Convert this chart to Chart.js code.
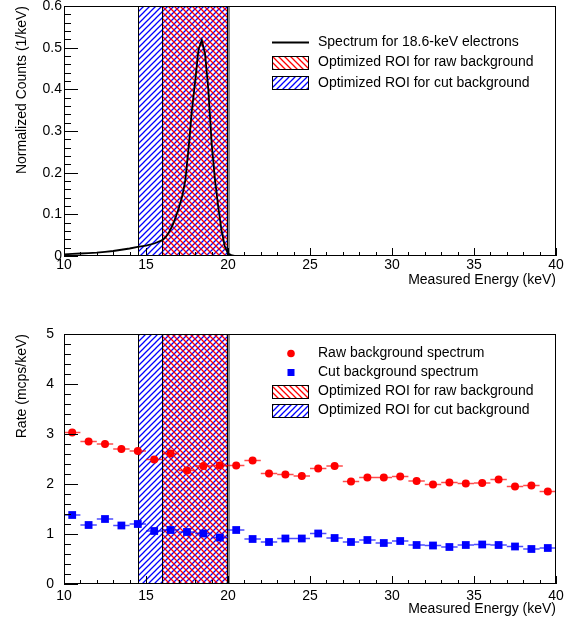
<!DOCTYPE html>
<html>
<head>
<meta charset="utf-8">
<script src="https://cdn.jsdelivr.net/npm/chart.js@4.4.1/dist/chart.umd.min.js"></script>
<style>
  body { margin: 0; background: #fff; }
  #wrap { position: relative; width: 571px; height: 623px; }
  canvas { position: absolute; left: 0; }
</style>
</head>
<body>
<div id="wrap">
  <canvas id="specChart" width="571" height="300" style="top:0"></canvas>
  <canvas id="rateChart" width="571" height="323" style="top:300px"></canvas>
</div>
<script>
//================================================
// DATA
//================================================
const specEnergy = [10.0, 10.5, 11.0, 11.5, 12.0, 12.5, 13.0, 13.5, 14.0, 14.5, 15.0, 15.5, 16.0,
    16.2, 16.4, 16.6, 16.8, 17.0, 17.2, 17.4, 17.6, 17.8, 18.0, 18.2, 18.4, 18.6, 18.8,
    19.0, 19.2, 19.4, 19.6, 19.8, 20.0, 20.2, 20.4, 20.6, 21.0, 40.0];
const specCounts = [0.004, 0.005, 0.006, 0.007, 0.008, 0.010, 0.012, 0.015, 0.018, 0.022, 0.025, 0.030, 0.038,
    0.045, 0.057, 0.072, 0.092, 0.115, 0.142, 0.182, 0.26, 0.35, 0.42, 0.495, 0.518, 0.485, 0.40,
    0.272, 0.185, 0.12, 0.063, 0.024, 0.006, 0.002, 0.0005, 0, 0, 0];

const binCenters = [10.5, 11.5, 12.5, 13.5, 14.5, 15.5, 16.5, 17.5, 18.5, 19.5,
    20.5, 21.5, 22.5, 23.5, 24.5, 25.5, 26.5, 27.5, 28.5, 29.5,
    30.5, 31.5, 32.5, 33.5, 34.5, 35.5, 36.5, 37.5, 38.5, 39.5];
const rawRate = [3.03, 2.85, 2.80, 2.70, 2.66, 2.49, 2.61, 2.27, 2.36, 2.37,
    2.37, 2.47, 2.21, 2.19, 2.16, 2.31, 2.36, 2.05, 2.13, 2.13,
    2.15, 2.06, 1.99, 2.03, 2.01, 2.02, 2.09, 1.95, 1.97, 1.85];
const cutRate = [1.38, 1.18, 1.30, 1.17, 1.20, 1.06, 1.08, 1.04, 1.01, 0.93,
    1.08, 0.90, 0.84, 0.91, 0.91, 1.01, 0.92, 0.84, 0.88, 0.82,
    0.86, 0.78, 0.77, 0.74, 0.78, 0.79, 0.78, 0.75, 0.70, 0.72];
const rawErr = [0.07, 0.07, 0.07, 0.07, 0.07, 0.07, 0.07, 0.07, 0.07, 0.07,
    0.07, 0.07, 0.07, 0.07, 0.07, 0.07, 0.07, 0.07, 0.07, 0.07,
    0.07, 0.07, 0.07, 0.07, 0.07, 0.07, 0.07, 0.07, 0.07, 0.07];
const cutErr = [0.05, 0.05, 0.05, 0.05, 0.05, 0.05, 0.05, 0.05, 0.05, 0.05,
    0.05, 0.05, 0.05, 0.05, 0.05, 0.05, 0.05, 0.05, 0.05, 0.05,
    0.05, 0.05, 0.05, 0.05, 0.05, 0.05, 0.05, 0.05, 0.05, 0.05];
const binHalfWidth = 0.5;

const roiRaw = [16, 20];
const roiCut = [14.5, 20];

const xTicks = [10, 15, 20, 25, 30, 35, 40];
const yTicksSpec = [0, 0.1, 0.2, 0.3, 0.4, 0.5, 0.6];
const yTicksRate = [0, 1, 2, 3, 4, 5];

const legendSpec = ['Spectrum for 18.6-keV electrons', 'Optimized ROI for raw background', 'Optimized ROI for cut background'];
const legendRate = ['Raw background spectrum', 'Cut background spectrum', 'Optimized ROI for raw background', 'Optimized ROI for cut background'];

//================================================
// HELPERS
//================================================
const FONT = '"Liberation Sans", Arial, Helvetica, sans-serif';
Chart.defaults.font.family = FONT;
Chart.defaults.font.size = 14;
Chart.defaults.color = '#000';

// diagonal hatch tile, dir > 0 => '/', else '\'
function hatch(color, dir) {
    const s = 6;
    const c = document.createElement('canvas');
    c.width = s; c.height = s;
    const g = c.getContext('2d');
    g.strokeStyle = color;
    g.lineWidth = 1.3;
    g.beginPath();
    for (let k = -1; k <= 1; k++) {
        if (dir > 0) {
            g.moveTo(k * s - 1, s + 1); g.lineTo(k * s + s + 1, -1);
        } else {
            g.moveTo(k * s - 1, -1); g.lineTo(k * s + s + 1, s + 1);
        }
    }
    g.stroke();
    return g.createPattern(c, 'repeat');
}
const redHatch = hatch('#ff0000', -1);
const blueHatch = hatch('#0000ff', 1);

function drawBands(chart) {
    const { ctx, chartArea: a, scales: { x } } = chart;
    const h = a.bottom - a.top;
    const band = (r, pat) => {
        const l = Math.round(x.getPixelForValue(r[0]));
        const rr = Math.round(x.getPixelForValue(r[1]));
        ctx.fillStyle = pat;
        ctx.fillRect(l, a.top, rr - l, h);
    };
    ctx.save();
    band(roiCut, blueHatch);
    band(roiRaw, redHatch);
    ctx.strokeStyle = '#000';
    ctx.lineWidth = 1;
    [roiCut[0], roiRaw[0]].forEach(v => {
        const p = Math.round(x.getPixelForValue(v)) + 0.5;
        ctx.beginPath(); ctx.moveTo(p, a.top); ctx.lineTo(p, a.bottom); ctx.stroke();
    });
    const pe = Math.round(x.getPixelForValue(roiRaw[1]));
    ctx.fillStyle = '#8a8a8a';
    ctx.fillRect(pe - 1, a.top, 3, h);
    ctx.fillStyle = '#000';
    ctx.fillRect(pe - 1, a.top, 1, h);
    ctx.restore();
}

function drawFrame(chart, yMinor) {
    const { ctx, chartArea: a, scales: { x, y } } = chart;
    ctx.save();
    ctx.strokeStyle = '#000';
    ctx.lineWidth = 1;
    ctx.strokeRect(a.left + 0.5, a.top + 0.5, a.right - a.left - 1, a.bottom - a.top - 1);
    ctx.beginPath();
    // x ticks (inward)
    for (let i = 0; i <= 30; i++) {
        const v = x.min + i;
        const p = Math.round(x.getPixelForValue(v)) + 0.5;
        const len = (i % 5 === 0) ? 8 : 4;
        ctx.moveTo(p, a.bottom);
        ctx.lineTo(p, a.bottom - len);
    }
    // y ticks (inward)
    const n = Math.round((y.max - y.min) / yMinor);
    for (let i = 0; i <= n; i++) {
        const v = y.min + i * yMinor;
        const p = Math.round(y.getPixelForValue(v)) + 0.5;
        const len = (i % 5 === 0) ? 14 : 7;
        ctx.moveTo(a.left, p);
        ctx.lineTo(a.left + len, p);
    }
    ctx.stroke();
    ctx.restore();
}

function drawErrors(chart) {
    const { ctx, scales: { x, y } } = chart;
    const sets = [[rawRate, rawErr, 'rgba(255,0,0,0.7)'], [cutRate, cutErr, 'rgba(0,0,255,0.7)']];
    ctx.save();
    ctx.lineWidth = 1.5;
    sets.forEach(([vals, errs, col]) => {
        ctx.strokeStyle = col;
        ctx.beginPath();
        binCenters.forEach((c, i) => {
            const py = y.getPixelForValue(vals[i]);
            ctx.moveTo(x.getPixelForValue(c - binHalfWidth), py);
            ctx.lineTo(x.getPixelForValue(c + binHalfWidth), py);
            const px = x.getPixelForValue(c);
            ctx.moveTo(px, y.getPixelForValue(vals[i] - errs[i]));
            ctx.lineTo(px, y.getPixelForValue(vals[i] + errs[i]));
        });
        ctx.stroke();
    });
    ctx.restore();
}

// legend entries: kind = 'line' | 'circle' | 'square' | 'red' | 'blue'
function drawLegend(chart, labels, kinds, rows) {
    const { ctx } = chart;
    const x0 = 272, x1 = 309, tx = 318;
    ctx.save();
    ctx.font = '14px ' + FONT;
    ctx.textBaseline = 'middle';
    ctx.textAlign = 'left';
    labels.forEach((txt, i) => {
        const yc = rows[i];
        const k = kinds[i];
        if (k === 'line') {
            ctx.strokeStyle = '#000'; ctx.lineWidth = 1.8;
            ctx.beginPath(); ctx.moveTo(x0, yc); ctx.lineTo(x1, yc); ctx.stroke();
        } else if (k === 'circle') {
            ctx.fillStyle = '#ff0000';
            ctx.beginPath(); ctx.arc(291, yc, 3.8, 0, Math.PI * 2); ctx.fill();
        } else if (k === 'square') {
            ctx.fillStyle = '#0000ff';
            ctx.fillRect(287.5, yc - 3.5, 7, 7);
        } else {
            ctx.fillStyle = k === 'red' ? redHatch : blueHatch;
            ctx.fillRect(x0, Math.round(yc - 7), x1 - x0, 14);
            ctx.strokeStyle = '#000'; ctx.lineWidth = 1;
            ctx.strokeRect(x0 + 0.5, Math.round(yc - 7) + 0.5, x1 - x0 - 1, 13);
        }
        ctx.fillStyle = '#000';
        ctx.fillText(txt, tx, yc);
    });
    ctx.restore();
}

function xScale(labelPad, height, titlePad) {
    return {
        type: 'linear', min: 10, max: 40,
        grid: { display: false, drawTicks: false },
        border: { display: false },
        ticks: { padding: labelPad, maxRotation: 0, autoSkip: false, callback: v => String(v) },
        afterBuildTicks: s => { s.ticks = xTicks.map(v => ({ value: v })); },
        afterFit: s => { s.height = height; s.paddingLeft = 0; s.paddingRight = 0; },
        title: { display: true, text: 'Measured Energy (keV)', align: 'end', padding: { top: 0, bottom: titlePad } }
    };
}

function yScale(max, ticks, labelPad, title) {
    return {
        min: 0, max: max,
        grid: { display: false, drawTicks: false },
        border: { display: false },
        ticks: { padding: labelPad, autoSkip: false, callback: v => String(v) },
        afterBuildTicks: s => { s.ticks = ticks.map(v => ({ value: v })); },
        afterFit: s => { s.width = 64; s.paddingTop = 0; s.paddingBottom = 0; },
        title: { display: true, text: title, align: 'end', padding: { top: 14, bottom: 0 } }
    };
}

//================================================
// TOP CHART: SPECTRUM
//================================================
new Chart(document.getElementById('specChart'), {
    type: 'line',
    data: {
        datasets: [{
            data: specEnergy.map((e, i) => ({ x: e, y: specCounts[i] })),
            borderColor: '#000',
            borderWidth: 1.8,
            pointRadius: 0,
            tension: 0,
            fill: false
        }]
    },
    options: {
        responsive: false,
        animation: false,
        devicePixelRatio: 1,
        layout: { padding: { left: 0, right: 15, top: 6, bottom: 0 } },
        plugins: { legend: { display: false }, tooltip: { enabled: false } },
        scales: {
            x: xScale(1, 44, 11),
            y: yScale(0.6, yTicksSpec, 2, 'Normalized Counts (1/keV)')
        }
    },
    plugins: [{
        id: 'specDeco',
        beforeDatasetsDraw: c => drawBands(c),
        afterDraw: c => {
            drawFrame(c, 0.02);
            drawLegend(c, legendSpec, ['line', 'red', 'blue'], [42.5, 62.5, 83]);
        }
    }]
});

//================================================
// BOTTOM CHART: BACKGROUND RATE
//================================================
new Chart(document.getElementById('rateChart'), {
    type: 'scatter',
    data: {
        datasets: [{
            data: binCenters.map((e, i) => ({ x: e, y: rawRate[i] })),
            pointStyle: 'circle',
            pointRadius: 4,
            backgroundColor: '#ff0000',
            borderWidth: 0
        }, {
            data: binCenters.map((e, i) => ({ x: e, y: cutRate[i] })),
            pointStyle: 'rect',
            pointRadius: 5.5,
            backgroundColor: '#0000ff',
            borderWidth: 0
        }]
    },
    options: {
        responsive: false,
        animation: false,
        devicePixelRatio: 1,
        layout: { padding: { left: 0, right: 15, top: 34, bottom: 0 } },
        plugins: { legend: { display: false }, tooltip: { enabled: false } },
        scales: {
            x: xScale(4, 39, 5),
            y: yScale(5, yTicksRate, 10, 'Rate (mcps/keV)')
        }
    },
    plugins: [{
        id: 'rateDeco',
        beforeDatasetsDraw: c => { drawBands(c); drawErrors(c); },
        afterDraw: c => {
            drawFrame(c, 0.2);
            drawLegend(c, legendRate, ['circle', 'square', 'red', 'blue'], [53.5, 72.5, 91.5, 110.5]);
        }
    }]
});
</script>
</body>
</html>
